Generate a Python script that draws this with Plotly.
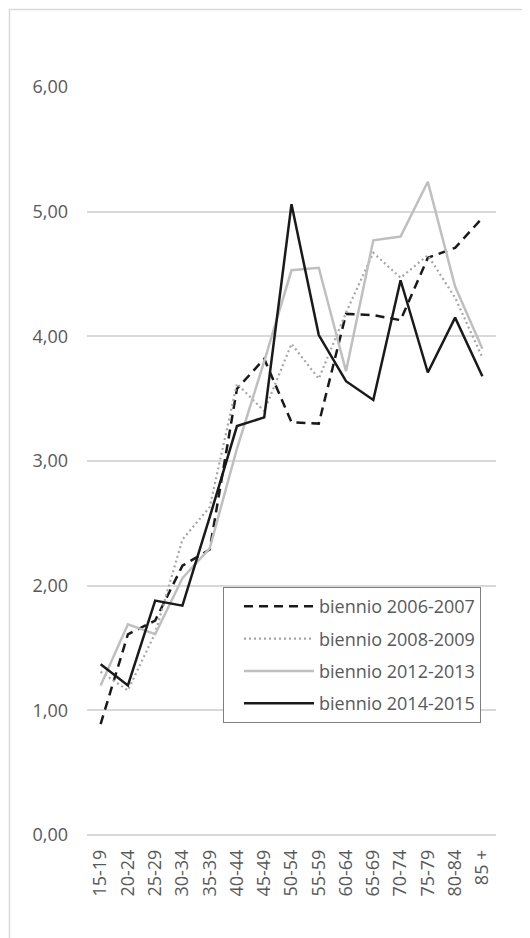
import plotly.graph_objects as go

categories = ["15-19", "20-24", "25-29", "30-34", "35-39", "40-44", "45-49",
              "50-54", "55-59", "60-64", "65-69", "70-74", "75-79", "80-84", "85 +"]

b2006_2007 = [0.89, 1.61, 1.72, 2.16, 2.29, 3.58, 3.82, 3.31, 3.30, 4.18, 4.17, 4.13, 4.63, 4.71, 4.95]
b2008_2009 = [1.31, 1.16, 1.62, 2.37, 2.63, 3.62, 3.40, 3.94, 3.66, 4.19, 4.67, 4.47, 4.65, 4.31, 3.83]
b2012_2013 = [1.20, 1.69, 1.61, 2.06, 2.30, 3.10, 3.80, 4.53, 4.55, 3.72, 4.77, 4.80, 5.24, 4.40, 3.90]
b2014_2015 = [1.37, 1.20, 1.88, 1.84, 2.55, 3.28, 3.35, 5.06, 4.01, 3.64, 3.49, 4.45, 3.71, 4.15, 3.68]

series_names = ["biennio 2006-2007", "biennio 2008-2009", "biennio 2012-2013", "biennio 2014-2015"]
y_ticks = [0, 1, 2, 3, 4, 5, 6]

FONT = "Open Sans"
TXT = "#595959"

fig = go.Figure()
styles = [
    dict(color="#1a1a1a", width=2.5, dash="9px,6px"),
    dict(color="#a6a6a6", width=2.2, dash="2px,3px"),
    dict(color="#bfbfbf", width=2.5, dash="solid"),
    dict(color="#1a1a1a", width=2.5, dash="solid"),
]
for i, (name, vals) in enumerate(zip(series_names, [b2006_2007, b2008_2009, b2012_2013, b2014_2015])):
    fig.add_trace(go.Scatter(x=categories, y=vals, mode="lines", name=name,
                             line=styles[i], legendgroup=f"g{i}"))

fig.update_layout(
    width=522, height=930,
    margin=dict(l=79, r=34, t=79, b=103),
    paper_bgcolor="white", plot_bgcolor="white",
    separators=",.",
    font=dict(family=FONT, size=18, color=TXT),
    showlegend=True,
    legend=dict(x=0.3325, y=0.3316, xanchor="left", yanchor="top",
                bgcolor="white", bordercolor="#7f7f7f", borderwidth=1,
                font=dict(family=FONT, size=18, color=TXT),
                tracegroupgap=6, itemwidth=70, indentation=15),
    xaxis=dict(type="category", range=[-0.5, 14.5], showgrid=False, zeroline=False,
               showline=False, tickangle=-90, ticks="", ticklabelstandoff=10,
               tickfont=dict(family=FONT, size=18, color=TXT)),
    yaxis=dict(range=[0, 6.0001], tickvals=y_ticks, tickformat=".2f",
               showgrid=True, gridcolor="#d9d9d9", gridwidth=1.5,
               zeroline=True, zerolinecolor="#d9d9d9", zerolinewidth=1.5,
               showline=False, ticks="", ticklabelstandoff=18,
               tickfont=dict(family=FONT, size=18, color=TXT)),
)

# outer chart border (light gray)
fig.add_shape(type="rect", xref="paper", yref="paper",
              x0=-0.1895, x1=1.3, y0=-0.3, y1=1.1035,
              line=dict(color="#d9d9d9", width=1.5), fillcolor="rgba(0,0,0,0)",
              layer="below")

fig.write_html("out.html")
